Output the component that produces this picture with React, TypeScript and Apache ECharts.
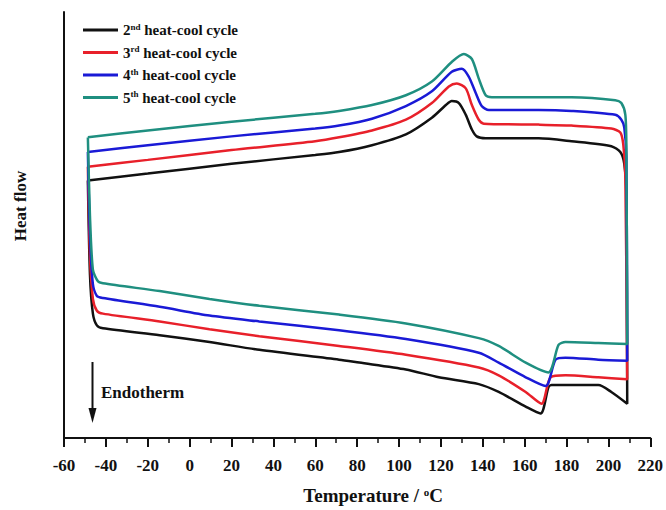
import React, { useEffect, useRef } from 'react';
import * as echarts from 'echarts';

const FONT = "'Liberation Serif', 'Times New Roman', serif";

const seriesNames = ['2nd heat-cool cycle', '3rd heat-cool cycle', '4th heat-cool cycle', '5th heat-cool cycle'];
const legendLabels = ['2{sup|nd} heat-cool cycle', '3{sup|rd} heat-cool cycle', '4{sup|th} heat-cool cycle', '5{sup|th} heat-cool cycle'];
const colors = ['#111111', '#e8202a', '#1a1ad6', '#1f8f80'];

// 2nd cycle: heating then cooling (temperature °C, heat flow a.u.)
const cycle2HeatT = [-48.6, -20, 20, 60, 71.4, 87.1, 103.3, 115.7, 122.4, 125.2, 128.6, 131.9, 134.8, 137.1, 141.4, 166.7, 182.4, 201.4, 205.7, 207.6, 208.6, 209.0];
const cycle2HeatF = [26.3, 27.0, 28.0, 28.9, 29.2, 29.9, 31.0, 32.7, 34.0, 34.4, 34.2, 33.0, 31.5, 30.8, 30.6, 30.6, 30.3, 29.8, 29.2, 28.0, 24.7, 3.5];
const cycle2CoolT = [201.4, 195.2, 172.9, 171.4, 167.6, 160.5, 147.6, 138.1, 119.0, 103.3, 81.0, 71.4, 33.3, 9.5, -14.3, -41.4, -44.3, -46.2, -47.6, -48.6];
const cycle2CoolF = [4.7, 5.4, 5.4, 5.2, 2.5, 3.2, 4.7, 5.5, 6.2, 7.0, 7.7, 8.0, 9.0, 9.8, 10.5, 11.2, 11.5, 12.7, 16.7, 26.3];

// 3rd cycle
const cycle3HeatT = [-48.6, -20, 20, 60, 71.4, 87.1, 103.3, 115.7, 123.8, 127.6, 131.9, 134.8, 138.1, 140.5, 166.7, 182.4, 201.4, 205.7, 207.1, 208.1, 209.0];
const cycle3HeatF = [27.7, 28.4, 29.4, 30.3, 30.7, 31.4, 32.5, 34.2, 35.9, 36.2, 35.7, 34.0, 32.5, 32.1, 32.0, 31.9, 31.6, 31.2, 30.0, 26.7, 6.0];
const cycle3CoolT = [195.2, 179.5, 172.4, 168.1, 160.5, 147.6, 138.1, 103.3, 71.4, 33.3, 9.5, -14.3, -41.4, -44.3, -46.2, -47.6, -48.6];
const cycle3CoolF = [6.2, 6.4, 6.2, 3.5, 4.7, 6.4, 7.2, 8.5, 9.4, 10.4, 11.1, 11.9, 12.7, 13.0, 14.2, 18.7, 27.7];

// 4th cycle
const cycle4HeatT = [-48.6, -20, 20, 60, 71.4, 87.1, 103.3, 115.7, 125.2, 130.0, 133.3, 136.7, 139.5, 142.9, 166.7, 182.4, 203.3, 206.2, 207.6, 208.6, 209.0];
const cycle4HeatF = [29.2, 29.9, 30.8, 31.6, 31.9, 32.6, 33.9, 35.4, 37.4, 37.7, 36.9, 35.2, 33.9, 33.5, 33.5, 33.4, 33.0, 32.5, 31.7, 28.7, 7.9];
const cycle4CoolT = [195.2, 179.5, 174.8, 170.0, 160.5, 147.6, 138.1, 103.3, 71.4, 33.3, 9.5, -14.3, -41.4, -44.3, -46.2, -47.6, -48.6];
const cycle4CoolF = [8.0, 8.2, 8.0, 5.3, 6.2, 7.7, 8.7, 10.1, 11.0, 11.9, 12.5, 13.4, 14.3, 14.5, 15.7, 20.7, 29.2];

// 5th cycle
const cycle5HeatT = [-48.6, -20, 20, 60, 71.4, 87.1, 103.3, 115.7, 125.2, 131.0, 134.8, 138.1, 141.4, 144.3, 166.7, 182.4, 203.3, 206.2, 208.1, 208.6, 209.0];
const cycle5HeatF = [30.7, 31.4, 32.3, 33.1, 33.4, 34.0, 35.0, 36.4, 38.4, 39.2, 38.7, 36.7, 35.0, 34.8, 34.8, 34.8, 34.5, 34.2, 33.0, 29.7, 9.6];
const cycle5CoolT = [195.2, 179.5, 176.2, 171.4, 160.5, 147.6, 138.1, 103.3, 71.4, 33.3, 9.5, -14.3, -41.4, -43.8, -46.2, -47.6, -48.6];
const cycle5CoolF = [9.7, 9.8, 9.5, 6.7, 7.7, 9.4, 10.2, 11.7, 12.6, 13.5, 14.2, 15.0, 15.8, 16.0, 17.2, 22.7, 30.7];

const xMin = -60;
const xMax = 220;
const xStep = 20;

function zip(t: number[], f: number[]) {
  return t.map((v, i) => [v, f[i]]);
}

const loops = [
  zip(cycle2HeatT, cycle2HeatF).concat(zip(cycle2CoolT, cycle2CoolF)),
  zip(cycle3HeatT, cycle3HeatF).concat(zip(cycle3CoolT, cycle3CoolF)),
  zip(cycle4HeatT, cycle4HeatF).concat(zip(cycle4CoolT, cycle4CoolF)),
  zip(cycle5HeatT, cycle5HeatF).concat(zip(cycle5CoolT, cycle5CoolF)),
];

export default function App() {
  const ref = useRef<HTMLDivElement>(null);
  useEffect(() => {
    if (!ref.current) return;
    const chart = echarts.init(ref.current, undefined, { renderer: 'svg' });
    chart.setOption({
      animation: false,
      backgroundColor: '#ffffff',
      grid: { left: 64, right: 14, top: 12, bottom: 64 },
      legend: {
        orient: 'vertical',
        left: 83,
        top: 22,
        padding: 0,
        itemWidth: 35,
        itemHeight: 3,
        itemGap: 7,
        icon: 'rect',
        data: seriesNames.map((n, i) => ({ name: n, itemStyle: { color: colors[i] } })),
        formatter: (name: string) => legendLabels[seriesNames.indexOf(name)],
        textStyle: {
          fontFamily: FONT,
          fontWeight: 'bold',
          fontSize: 15,
          color: '#111',
          rich: {
            sup: { fontFamily: FONT, fontWeight: 'bold', fontSize: 9, color: '#111', verticalAlign: 'bottom', padding: [0, 0, 7, 0] },
          },
        },
      },
      xAxis: {
        type: 'value',
        min: xMin,
        max: xMax,
        interval: xStep,
        name: 'Temperature / {sup|o}C',
        nameLocation: 'middle',
        nameGap: 48,
        nameTextStyle: {
          fontFamily: FONT,
          fontWeight: 'bold',
          fontSize: 19,
          color: '#111',
          padding: [0, 0, 0, 32],
          rich: {
            sup: { fontFamily: FONT, fontWeight: 'bold', fontSize: 11, color: '#111', verticalAlign: 'bottom', padding: [0, 0, 8, 0] },
          },
        },
        axisLine: { show: true, onZero: false, lineStyle: { color: '#111', width: 2 } },
        axisTick: { show: true, inside: false, length: 9, lineStyle: { color: '#111', width: 2 } },
        minorTick: { show: true, splitNumber: 2, length: 5, lineStyle: { color: '#111', width: 1.5 } },
        axisLabel: { fontFamily: FONT, fontWeight: 'bold', fontSize: 17, color: '#111', margin: 19 },
        splitLine: { show: false },
      },
      yAxis: {
        type: 'value',
        min: 0,
        max: 43.5,
        name: 'Heat flow',
        nameLocation: 'middle',
        nameRotate: 90,
        nameGap: 35,
        nameTextStyle: { fontFamily: FONT, fontWeight: 'bold', fontSize: 17, color: '#111', padding: [0, 0, 0, 38] },
        axisLine: { show: true, onZero: false, lineStyle: { color: '#111', width: 2 } },
        axisTick: { show: false },
        axisLabel: { show: false },
        splitLine: { show: false },
      },
      series: loops.map((d, i) => ({
        name: seriesNames[i],
        type: 'line',
        data: d,
        symbol: 'none',
        smooth: 0.25,
        lineStyle: { color: colors[i], width: 2.5 },
        itemStyle: { color: colors[i] },
        z: 2 + i,
      })),
      graphic: [
        { type: 'line', shape: { x1: 92.5, y1: 362, x2: 92.5, y2: 412 }, style: { stroke: '#111', lineWidth: 2 } },
        { type: 'polygon', shape: { points: [[88.5, 408], [96.5, 408], [92.5, 423]] }, style: { fill: '#111' } },
        {
          type: 'text',
          x: 101,
          y: 392,
          style: { text: 'Endotherm', fontFamily: FONT, fontWeight: 'bold', fontSize: 17, fill: '#111', verticalAlign: 'middle' },
        },
      ],
    });
    return () => chart.dispose();
  }, []);
  return <div ref={ref} style={{ position: 'fixed', left: 0, top: 0, width: 666, height: 510 }} />;
}
